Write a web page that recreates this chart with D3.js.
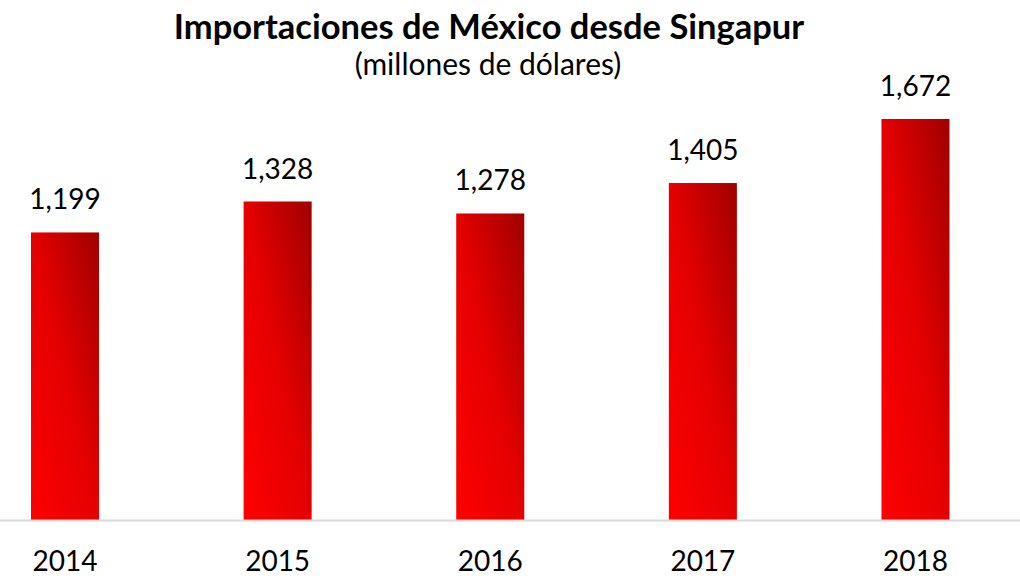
<!DOCTYPE html>
<html>
<head>
<meta charset="utf-8">
<script src="https://cdn.jsdelivr.net/npm/d3@7"></script>
<style>
  body { margin: 0; background: #fff; }
  svg { display: block; font-family: Lato, "Liberation Sans", sans-serif; }
</style>
</head>
<body>
<svg width="1020" height="585"></svg>
<script>
// data
const years = ["2014", "2015", "2016", "2017", "2018"];
const values = [1199, 1328, 1278, 1405, 1672];

const svg = d3.select("svg");
const W = 1020, baseY = 520;

const x = d3.scaleBand()
    .domain(years)
    .range([-41.3, 1021.8])
    .paddingInner(0.68)
    .paddingOuter(0.34);

const y = d3.scaleLinear()
    .domain([0, 1672])
    .range([baseY, 119]);

const defs = svg.append("defs");
const grad = defs.append("linearGradient")
    .attr("id", "barGrad")
    .attr("x1", 0).attr("y1", 1)
    .attr("x2", 1).attr("y2", 0);
grad.append("stop").attr("offset", "0%").attr("stop-color", "#ff0000");
grad.append("stop").attr("offset", "50%").attr("stop-color", "#e50000");
grad.append("stop").attr("offset", "100%").attr("stop-color", "#a00000");

// title
svg.append("text")
    .attr("x", 489).attr("y", 39)
    .attr("text-anchor", "middle")
    .attr("font-size", 34.5).attr("font-weight", "bold")
    .text("Importaciones de México desde Singapur");

svg.append("text")
    .attr("x", 488).attr("y", 75)
    .attr("text-anchor", "middle")
    .attr("font-size", 30)
    .text("(millones de dólares)");

// bars
svg.selectAll(".bar")
    .data(values)
    .enter()
    .append("rect")
    .attr("class", "bar")
    .attr("x", (d, i) => x(years[i]))
    .attr("width", x.bandwidth())
    .attr("y", d => y(d))
    .attr("height", d => baseY - y(d))
    .attr("fill", "url(#barGrad)");

// value labels
svg.selectAll(".val")
    .data(values)
    .enter()
    .append("text")
    .attr("class", "val")
    .attr("x", (d, i) => x(years[i]) + x.bandwidth() / 2)
    .attr("y", d => y(d) - 23)
    .attr("text-anchor", "middle")
    .attr("font-size", 28)
    .text(d => d3.format(",")(d));

// axis
const axis = svg.append("g")
    .attr("transform", `translate(0,${baseY})`)
    .call(d3.axisBottom(x).tickSize(0).tickPadding(31));
axis.select(".domain").attr("d", `M0,0.5H${W}`).attr("stroke", "#d9d9d9").attr("stroke-width", 2);
axis.selectAll("text")
    .attr("font-size", 28)
    .attr("font-family", "Lato, 'Liberation Sans', sans-serif")
    .attr("fill", "#000");
</script>
</body>
</html>
